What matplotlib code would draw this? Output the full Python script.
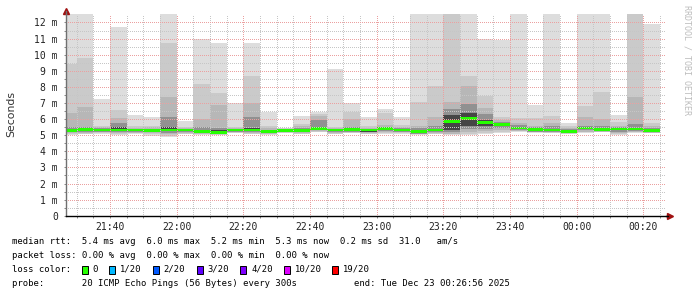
import matplotlib
matplotlib.use('Agg')
import matplotlib.dates as mdates
import matplotlib.pyplot as plt
import numpy as np
import pandas as pd
from matplotlib.lines import Line2D
from matplotlib.patches import Rectangle

W, H = 697, 297

# one bar = one 5-minute round of 20 pings, values in ms
bar_start = pd.date_range('2025-12-22 21:25', periods=36, freq='5min')
graph_end = pd.Timestamp('2025-12-23 00:26:56')

rtt_max = [13, 13, 7.25, 11.74, 6.25, 6.15, 13, 5.90, 11.00, 10.75, 7.02, 10.75,
           6.46, 5.47, 6.19, 6.46, 9.11, 7.02, 6.10, 6.63, 6.10, 13, 13, 13,
           13, 10.95, 10.91, 13, 6.87, 13, 5.78, 13, 13, 6.25, 13, 11.90]
rtt_p19 = [9.42, 9.80, 5.57, 6.56, 5.57, 5.60, 10.75, 5.53, 8.18, 7.64, 5.50, 8.68,
           5.55, 5.42, 5.68, 6.30, 5.50, 6.46, 5.55, 6.36, 5.63, 7.08, 8.08, 13,
           8.68, 7.43, 6.10, 6.05, 6.05, 6.19, 5.55, 6.81, 7.70, 5.84, 13, 5.73]
rtt_p18 = [6.40, 6.77, 5.48, 6.05, 5.45, 5.48, 7.39, 5.45, 6.00, 6.87, 5.42, 7.00,
           5.45, 5.40, 5.55, 6.22, 5.45, 6.00, 5.45, 5.62, 5.50, 5.55, 6.10, 7.08,
           8.06, 6.70, 5.95, 5.78, 5.60, 5.73, 5.45, 6.15, 6.00, 5.60, 7.40, 5.60]
rtt_p16 = [5.53, 5.50, 5.42, 5.74, 5.40, 5.40, 6.15, 5.40, 5.50, 5.45, 5.38, 6.12,
           5.35, 5.38, 5.45, 5.95, 5.40, 5.50, 5.40, 5.50, 5.42, 5.42, 5.55, 6.60,
           6.94, 6.30, 5.85, 5.65, 5.50, 5.55, 5.38, 5.55, 5.60, 5.50, 5.70, 5.45]
rtt_p12 = [5.38, 5.42, 5.38, 5.50, 5.38, 5.33, 5.50, 5.37, 5.35, 5.30, 5.36, 5.42,
           5.30, 5.35, 5.38, 5.50, 5.37, 5.40, 5.37, 5.45, 5.38, 5.30, 5.40, 6.25,
           6.40, 5.95, 5.75, 5.52, 5.42, 5.40, 5.30, 5.50, 5.45, 5.43, 5.45, 5.35]
rtt_median = [5.30, 5.35, 5.32, 5.32, 5.33, 5.30, 5.33, 5.32, 5.22, 5.17, 5.33, 5.32,
              5.25, 5.30, 5.30, 5.42, 5.32, 5.34, 5.33, 5.42, 5.33, 5.22, 5.33, 5.84,
              6.05, 5.77, 5.67, 5.45, 5.35, 5.32, 5.25, 5.45, 5.37, 5.38, 5.38, 5.28]
rtt_p9 = [5.22, 5.28, 5.27, 5.25, 5.28, 5.25, 5.25, 5.27, 5.17, 5.12, 5.26, 5.25,
          5.18, 5.25, 5.25, 5.35, 5.25, 5.28, 5.22, 5.35, 5.28, 5.15, 5.27, 5.32,
          5.55, 5.55, 5.58, 5.38, 5.28, 5.25, 5.20, 5.38, 5.30, 5.30, 5.30, 5.22]
rtt_p5 = [5.18, 5.22, 5.22, 5.18, 5.22, 5.20, 5.15, 5.22, 5.12, 5.08, 5.22, 5.20,
          5.12, 5.22, 5.20, 5.30, 5.20, 5.22, 5.18, 5.25, 5.22, 5.10, 5.20, 5.20,
          5.40, 5.40, 5.45, 5.32, 5.22, 5.20, 5.15, 5.30, 5.25, 5.20, 5.25, 5.18]
rtt_p3 = [5.12, 5.15, 5.17, 5.12, 5.15, 5.12, 5.05, 5.15, 5.08, 5.05, 5.18, 5.12,
          5.08, 5.18, 5.12, 5.25, 5.15, 5.18, 5.12, 5.18, 5.18, 5.07, 5.15, 5.10,
          5.20, 5.25, 5.30, 5.28, 5.20, 5.17, 5.12, 5.22, 5.22, 5.12, 5.20, 5.15]
rtt_p2 = [5.08, 5.10, 5.12, 5.08, 5.12, 5.05, 4.98, 5.10, 5.05, 5.03, 5.15, 5.08,
          5.05, 5.15, 5.08, 5.22, 5.10, 5.14, 5.08, 5.12, 5.14, 5.05, 5.10, 5.05,
          5.10, 5.15, 5.22, 5.25, 5.18, 5.15, 5.10, 5.18, 5.20, 5.05, 5.18, 5.13]
rtt_min = [5.00, 5.05, 5.08, 5.02, 5.05, 4.98, 4.90, 5.05, 5.02, 5.00, 5.12, 5.05,
           5.02, 5.12, 5.05, 5.18, 5.05, 5.12, 5.05, 5.08, 5.10, 5.02, 5.05, 5.00,
           5.00, 5.08, 5.15, 5.22, 5.15, 5.12, 5.08, 5.15, 5.17, 5.00, 5.15, 5.12]

loss_labels = ['0', '1/20', '2/20', '3/20', '4/20', '10/20', '19/20']
loss_colors = ['#26ff00', '#00b8ff', '#0059ff', '#5e00ff', '#7e00ff', '#dd00ff', '#ff0000']

legend_lines = [
    'median rtt:  5.4 ms avg  6.0 ms max  5.2 ms min  5.3 ms now  0.2 ms sd  31.0   am/s',
    'packet loss: 0.00 % avg  0.00 % max  0.00 % min  0.00 % now',
]
probe_text = 'probe:       20 ICMP Echo Pings (56 Bytes) every 300s'
end_text = 'end: Tue Dec 23 00:26:56 2025'


def px(x, y):
    return x / W, 1 - y / H


def smoke_gray(ibot, half=10):
    # same shading rule smokeping uses for the ping bands
    c = int(190 / half * (half - ibot)) + 50
    return '#%02x%02x%02x' % (c, c, c)


fig = plt.figure(figsize=(W / 100, H / 100), dpi=100)
fig.patch.set_facecolor('white')
left, bottom = px(66.4, 215.7)
right, top = px(666.4, 14.45)
ax = fig.add_axes([left, bottom, right - left, top - bottom])

width = pd.Timedelta(minutes=5) / pd.Timedelta(days=1)
bands = [(1, rtt_min, rtt_max), (2, rtt_p2, rtt_p19), (3, rtt_p3, rtt_p18),
         (5, rtt_p5, rtt_p16), (9, rtt_p9, rtt_p12)]
for ibot, lo, hi in bands:
    lo = np.array(lo)
    hi = np.array(hi)
    ax.bar(bar_start, hi - lo, bottom=lo, width=width, align='edge',
           color=smoke_gray(ibot), linewidth=0, antialiased=False, zorder=1)

med = np.array(rtt_median)
ax.bar(bar_start, 0.17, bottom=med - 0.085, width=width, align='edge',
       color=loss_colors[0], linewidth=0, antialiased=False, zorder=1.2)

t0 = graph_end - pd.Timedelta(hours=3)
ax.set_xlim(t0, graph_end)
ax.set_ylim(0, 12.5)

ax.xaxis.set_major_locator(mdates.MinuteLocator(byminute=[0, 20, 40]))
ax.xaxis.set_minor_locator(mdates.MinuteLocator(byminute=range(0, 60, 5)))
ax.xaxis.set_major_formatter(mdates.DateFormatter('%H:%M'))
ax.set_yticks(np.arange(0, 13))
ax.set_yticks(np.arange(0.5, 12.5, 1), minor=True)
ax.set_yticklabels(['0'] + ['%d m' % v for v in range(1, 13)])

# rrdtool style dotted grid, drawn over the smoke
dots = (0, (0.6, 1.4))
grid_kw = dict(linewidth=0.72, linestyles=dots, antialiased=False, zorder=2.5)
five = pd.date_range('2025-12-22 21:30', '2025-12-23 00:25', freq='5min')
major_t = five[five.minute % 20 == 0]
minor_t = five[five.minute % 20 != 0]
ax.vlines(minor_t, 0, 12.5, colors='#c6c6c6', **grid_kw)
ax.hlines(np.arange(0.5, 12.5, 1), t0, graph_end, colors='#c6c6c6', **grid_kw)
ax.vlines(major_t, 0, 12.5, colors='#eba0a0', **grid_kw)
ax.hlines(np.arange(1, 13), t0, graph_end, colors='#eba0a0', **grid_kw)

for side in ('top', 'right'):
    ax.spines[side].set_visible(False)
ax.spines['left'].set_color('#707070')
ax.spines['bottom'].set_color('#000000')
ax.spines['left'].set_linewidth(1)
ax.spines['bottom'].set_linewidth(1)

mono = 'DejaVu Sans Mono'
ax.tick_params(axis='both', which='both', length=1.6, width=0.7, color='#888888')
ax.tick_params(axis='x', which='major', pad=3, labelsize=7)
ax.tick_params(axis='y', which='major', pad=4.5, labelsize=7)
for lab in ax.get_xticklabels() + ax.get_yticklabels():
    lab.set_fontfamily(mono)
    lab.set_color('#222222')

fig.text(*px(11, 114), 'Seconds', rotation=90, ha='center', va='center',
         fontsize=7.8, color='#333333')

# axis arrows
fig.add_artist(Line2D([66.4 / W, 66.4 / W], [1 - 14.45 / H, 1 - 11 / H], color='#707070', lw=1))
fig.add_artist(Line2D([666.4 / W, 668 / W], [1 - 215.7 / H] * 2, color='black', lw=1))
ax.plot([0], [1.018], marker='^', color='#a01010', markersize=4, transform=ax.transAxes, clip_on=False)
ax.plot([1.006], [0], marker='>', color='#a01010', markersize=4, transform=ax.transAxes, clip_on=False)

fig.text(*px(687, 5), 'RRDTOOL / TOBI OETIKER', rotation=270, ha='center', va='top',
         fontsize=6, family=mono, color='#bdbdbd')

fs = 6.36
for i, line in enumerate(legend_lines):
    fig.text(*px(12.3, 241 + i * 14.3), line, fontsize=fs, family=mono, va='center')
fig.text(*px(12.3, 269.5), 'loss color:', fontsize=fs, family=mono, va='center')
box_x = [81.7, 109, 152.7, 196.7, 240, 284, 331.7]
for bx, lab, col in zip(box_x, loss_labels, loss_colors):
    fig.add_artist(Rectangle(px(bx, 273.5), 6 / W, 8 / H, transform=fig.transFigure,
                             facecolor=col, edgecolor='black', linewidth=0.7))
    fig.text(*px(bx + 11, 269.5), lab, fontsize=fs, family=mono, va='center')
fig.text(*px(12.3, 283.5), probe_text, fontsize=fs, family=mono, va='center')
fig.text(*px(510, 283.5), end_text, fontsize=fs, family=mono, va='center', ha='right')

fig.savefig('out.png', dpi=100)
